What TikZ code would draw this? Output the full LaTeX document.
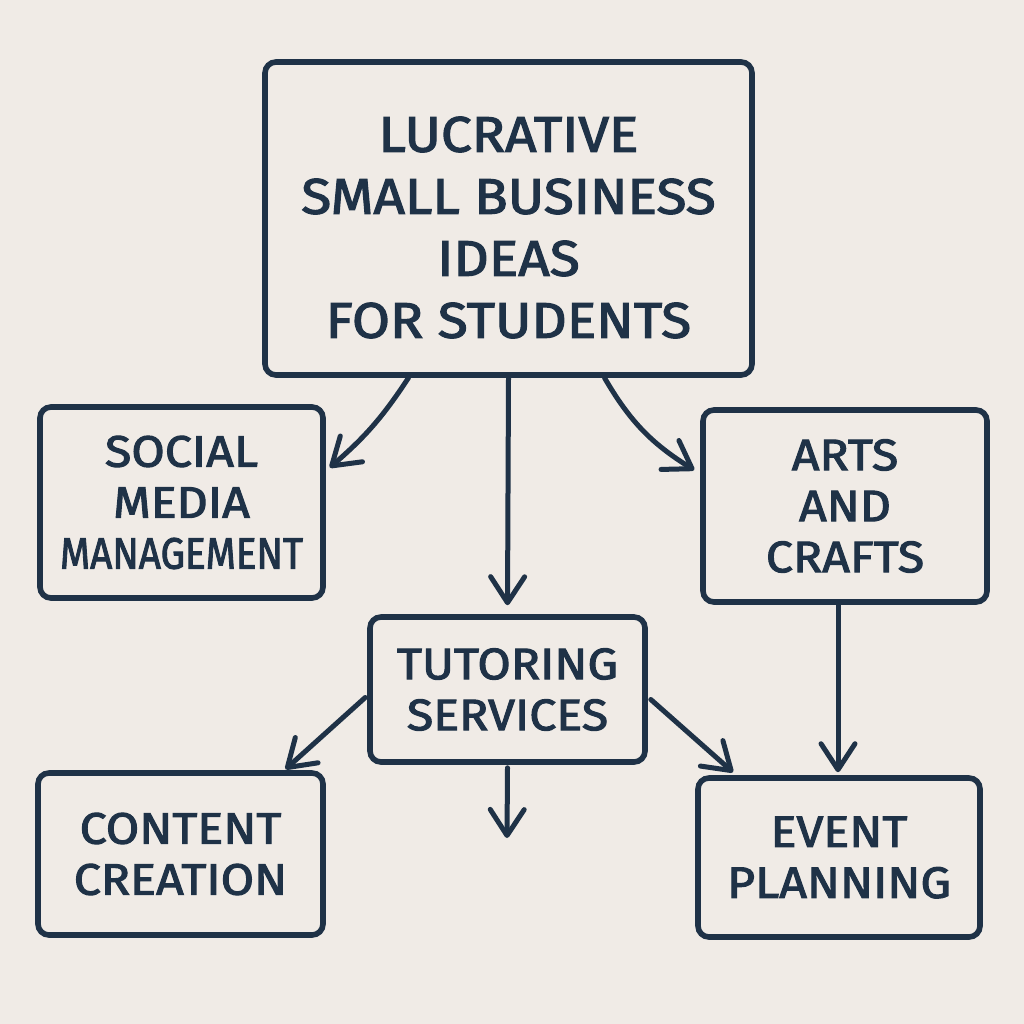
\documentclass[tikz,border=0pt]{standalone}
\usepackage{fontspec}
\setmainfont{Fira Sans}[FakeBold=2.4,FakeStretch=1.1,UprightFeatures={FakeBold=2.4}]
\usetikzlibrary{arrows.meta}
\definecolor{ink}{HTML}{1F3247}
\definecolor{paper}{HTML}{F0EBE6}
\tikzset{
  box/.style={draw=ink, line width=5.6pt, rounded corners=11pt, inner sep=0pt, align=center, text=ink},
  lbl/.style={inner sep=0pt, align=center, text=ink},
  conn/.style={draw=ink, line width=5pt, line cap=round, -{Straight Barb[length=26pt,width=34pt,line cap=round,line join=round]}},
  titlefont/.style={font=\fontsize{50}{62}\selectfont},
  boxfont/.style={font=\fontsize{44}{51}\selectfont},
}
\begin{document}
\begin{tikzpicture}[x=1pt,y=-1pt]
\fill[paper] (0,0) rectangle (1024,1024);
\useasboundingbox (0,0) rectangle (1024,1024);

\node[box, minimum width=487pt, minimum height=313pt] (title) at (508.5,218.5) {};
\node[lbl, titlefont] (titletext) at ([yshift=-9pt]title.center)
  {LUCRATIVE\\SMALL BUSINESS\\IDEAS\\FOR STUDENTS};
\node[box, boxfont, minimum width=283pt, minimum height=191pt] (social) at (181.5,502.5)
  {SOCIAL\\MEDIA\\\scalebox{0.8}[1]{MANAGEMENT}};
\node[box, boxfont, minimum width=284pt, minimum height=192pt] (arts) at (845,506)
  {ARTS\\AND\\CRAFTS};
\node[box, boxfont, minimum width=275pt, minimum height=145pt] (tutor) at (507.5,689.5)
  {TUTORING\\SERVICES};
\node[box, boxfont, minimum width=285pt, minimum height=162pt] (content) at (180.5,854)
  {CONTENT\\CREATION};
\node[box, boxfont, minimum width=282pt, minimum height=159pt] (event) at (839,857.5)
  {EVENT\\PLANNING};

\coordinate (free) at (507,838);

\draw[conn] ([xshift=-100pt]title.south) to[bend left=8] ([xshift=4pt,yshift=35pt]social.east);
\draw[conn] (title.south) -- ([yshift=9pt]tutor.north);
\draw[conn] ([xshift=96pt]title.south) to[bend right=14] ([xshift=-6pt,yshift=36pt]arts.west);
\draw[conn] ([xshift=-2pt,yshift=-8pt]tutor.west) -- ([xshift=105pt,yshift=1pt]content.north);
\draw[conn] ([yshift=-3pt]tutor.south) -- (free);
\draw[conn] ([xshift=3pt,yshift=-10pt]tutor.east) -- ([xshift=-106pt,yshift=3pt]event.north);
\draw[conn] ([xshift=-7pt]arts.south) -- ([xshift=-1pt,yshift=3pt]event.north);
\end{tikzpicture}
\end{document}
